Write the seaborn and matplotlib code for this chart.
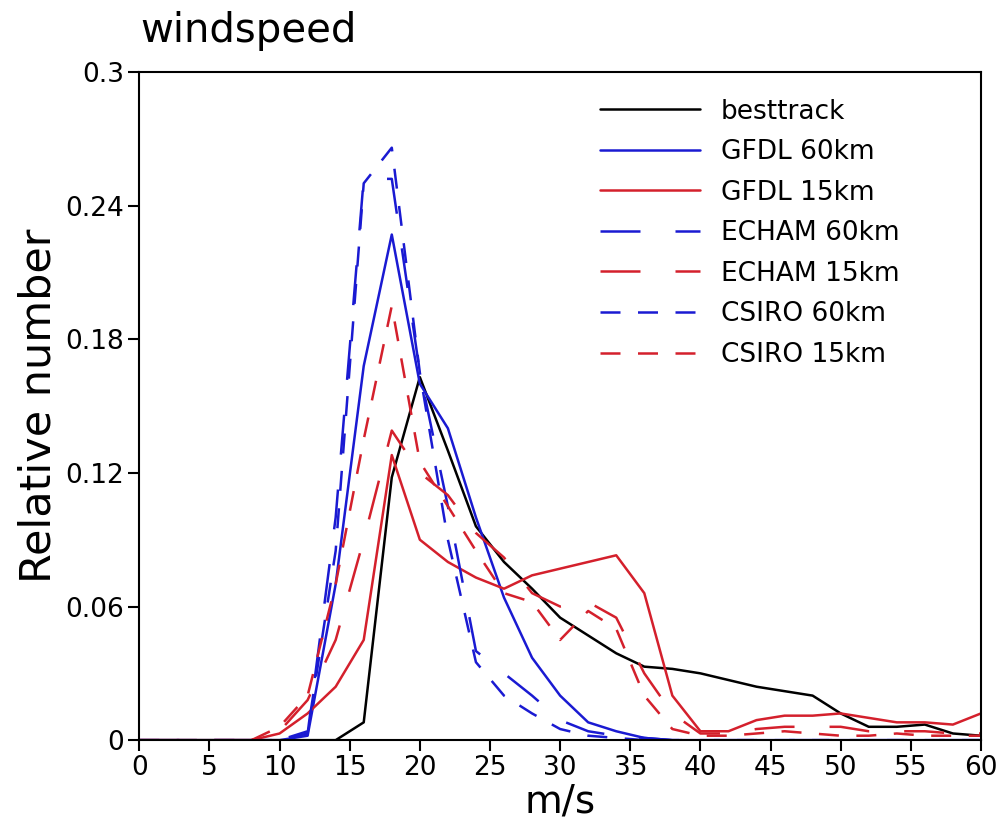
import matplotlib
matplotlib.use('Agg')
import matplotlib.pyplot as plt
import seaborn as sns
import pandas as pd

sns.set_style('ticks')
plt.rcParams['font.family'] = ['DejaVu Sans']
plt.rcParams.update({'text.color': 'black', 'axes.labelcolor': 'black',
                     'xtick.color': 'black', 'ytick.color': 'black',
                     'axes.edgecolor': 'black'})

speed = list(range(0, 62, 2))

besttrack = [0, 0, 0, 0, 0, 0, 0, 0, 0.008, 0.118, 0.163, 0.13, 0.096, 0.08, 0.068, 0.055,
             0.047, 0.039, 0.033, 0.032, 0.030, 0.027, 0.024, 0.022, 0.020, 0.012, 0.006,
             0.006, 0.007, 0.003, 0.002]
gfdl_60 = [0, 0, 0, 0, 0, 0, 0.002, 0.07, 0.168, 0.227, 0.16, 0.14, 0.10, 0.064, 0.037, 0.02,
           0.008, 0.004, 0.001, 0, 0, 0, 0, 0, 0, 0, 0, 0, 0, 0, 0]
gfdl_15 = [0, 0, 0, 0, 0, 0.003, 0.012, 0.024, 0.045, 0.128, 0.09, 0.08, 0.073, 0.068, 0.074,
           0.077, 0.08, 0.083, 0.066, 0.02, 0.004, 0.004, 0.009, 0.011, 0.011, 0.012, 0.01,
           0.008, 0.008, 0.007, 0.012]
echam_60 = [0, 0, 0, 0, 0, 0, 0.003, 0.1, 0.252, 0.252, 0.165, 0.105, 0.04, 0.03, 0.02, 0.009,
            0.004, 0.002, 0.001, 0, 0, 0, 0, 0, 0, 0, 0, 0, 0, 0, 0]
echam_15 = [0, 0, 0, 0, 0, 0.004, 0.018, 0.045, 0.09, 0.139, 0.12, 0.11, 0.093, 0.082, 0.066,
            0.06, 0.062, 0.055, 0.03, 0.012, 0.003, 0.003, 0.005, 0.006, 0.006, 0.006, 0.004,
            0.004, 0.004, 0.003, 0.003]
csiro_60 = [0, 0, 0, 0, 0, 0, 0.004, 0.085, 0.25, 0.266, 0.165, 0.09, 0.035, 0.02, 0.012, 0.005,
            0.002, 0.001, 0, 0, 0, 0, 0, 0, 0, 0, 0, 0, 0, 0, 0]
csiro_15 = [0, 0, 0, 0, 0, 0.006, 0.02, 0.07, 0.135, 0.195, 0.125, 0.105, 0.085, 0.066, 0.062,
            0.045, 0.058, 0.05, 0.02, 0.005, 0.002, 0.002, 0.003, 0.004, 0.003, 0.002, 0.002,
            0.003, 0.002, 0.002, 0.002]

names = ['besttrack', 'GFDL 60km', 'GFDL 15km', 'ECHAM 60km', 'ECHAM 15km', 'CSIRO 60km', 'CSIRO 15km']
series = [besttrack, gfdl_60, gfdl_15, echam_60, echam_15, csiro_60, csiro_15]

blue = '#1a1ad2'
red = '#d4202c'
colors = ['black', blue, red, blue, red, blue, red]
dashes = ['', '', '', (16, 14), (16, 14), (8, 7), (8, 7)]

df = pd.DataFrame({n: s for n, s in zip(names, series)})
df['speed'] = speed
long = df.melt(id_vars='speed', var_name='model', value_name='rel')

fig = plt.figure(figsize=(10.02, 8.27), dpi=100)
ax = fig.add_axes([0.139, 0.105, 0.840, 0.808])

sns.lineplot(data=long, x='speed', y='rel', hue='model', style='model',
             palette=dict(zip(names, colors)), dashes=dict(zip(names, dashes)),
             hue_order=names, style_order=names, linewidth=1.8, ax=ax)

ax.set_xlim(0, 60)
ax.set_ylim(0, 0.3)
ax.set_xticks(range(0, 61, 5))
ax.set_yticks([0, 0.06, 0.12, 0.18, 0.24, 0.3])
ax.set_yticklabels(['0', '0.06', '0.12', '0.18', '0.24', '0.3'])
ax.tick_params(axis='both', labelsize=19, length=8, width=1.5, direction='out', pad=3)
for sp in ax.spines.values():
    sp.set_linewidth(1.5)

ax.set_xlabel('m/s', fontsize=28, labelpad=1)
ax.set_ylabel('Relative number', fontsize=31, labelpad=4)
fig.text(0.14, 0.962, 'windspeed', fontsize=29, ha='left', va='center')

leg = ax.legend(loc='upper left', frameon=False, fontsize=19, handlelength=3.8,
                handletextpad=0.8, labelspacing=0.55, borderpad=0, borderaxespad=0,
                bbox_to_anchor=(0.547, 0.96))

fig.savefig('out.png', dpi=100)
